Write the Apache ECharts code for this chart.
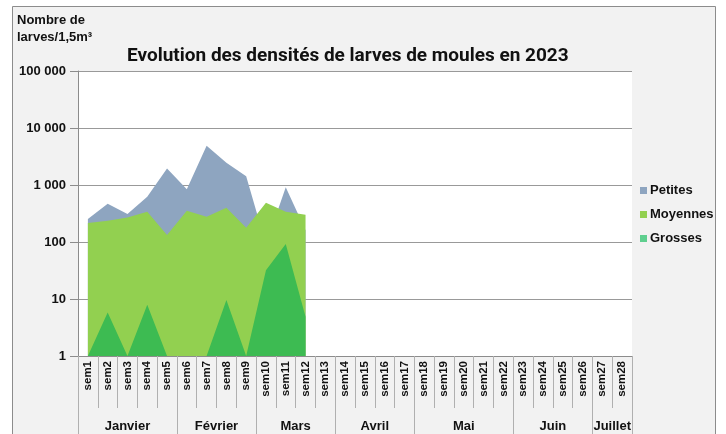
<!DOCTYPE html>
<html><head><meta charset="utf-8">
<script src="https://cdn.jsdelivr.net/npm/echarts@6/dist/echarts.min.js"></script>
<style>html,body{margin:0;padding:0;background:#fff}#c{width:726px;height:434px}</style>
</head><body><div id="c"></div>
<script>
const weeks = ['sem1','sem2','sem3','sem4','sem5','sem6','sem7','sem8','sem9','sem10','sem11','sem12','sem13','sem14','sem15','sem16','sem17','sem18','sem19','sem20','sem21','sem22','sem23','sem24','sem25','sem26','sem27','sem28'];
const petites  = [252, 470, 310, 620, 1940, 840, 4900, 2460, 1420, 90, 910, 160];
const moyennes = [215, 235, 270, 340, 133, 355, 277, 400, 178, 490, 340, 300];
const grosses  = [1, 5.8, 1, 7.9, 1, 1, 1, 9.6, 1, 32, 92, 4.9];
const months = ['Janvier','Février','Mars','Avril','Mai','Juin','Juillet'];
const monthBounds = [0,5,9,13,17,22,26,28];
const yTicks = [1,10,100,1000,10000,100000];

const monthCenters = months.map((m,i)=> (monthBounds[i]+monthBounds[i+1])/2);
const FONT = 'Liberation Sans';
const chart = echarts.init(document.getElementById('c'));
chart.setOption({
  animation:false,
  backgroundColor:'#ffffff',
  graphic:[{type:'rect',z:-10,shape:{x:12.5,y:6.5,width:703,height:440},style:{fill:'#f2f2f2',stroke:'#8c8c8c',lineWidth:1}},
           {type:'text',left:17,top:12,style:{text:'Nombre de\nlarves/1,5m³',font:'bold 13px "Liberation Sans"',fill:'#111',lineHeight:17}}],
  title:{text:'Evolution des densités de larves de moules en 2023',left:122,top:42,
    textStyle:{fontFamily:'Roboto',fontWeight:'bold',fontSize:19,color:'#111'}},
  legend:{orient:'vertical',left:635,top:179,itemWidth:7,itemHeight:7,itemGap:11,icon:'rect',
    textStyle:{fontFamily:FONT,fontWeight:'bold',fontSize:13,color:'#111',padding:[0,0,0,-2]},
    data:[{name:'Petites'},{name:'Moyennes'},{name:'Grosses',itemStyle:{color:'#5fcf8f'}}]},
  grid:{left:78,right:94,top:71,bottom:78,containLabel:false,backgroundColor:'#fff',show:true,borderWidth:0},
  xAxis:[{type:'category',data:weeks,boundaryGap:true,
      axisLine:{lineStyle:{color:'#8c8c8c'}},
      axisTick:{show:true,interval:0,length:52,lineStyle:{color:'#b0b0b0'}},
      axisLabel:{interval:0,rotate:90,margin:5,fontFamily:FONT,fontWeight:'bold',fontSize:11.5,color:'#111'}},
    {type:'value',position:'bottom',min:0,max:28,
      axisLine:{show:false},splitLine:{show:false},
      axisTick:{show:true,customValues:monthBounds,length:80,lineStyle:{color:'#b0b0b0'}},
      axisLabel:{customValues:monthCenters,margin:64,fontFamily:FONT,fontWeight:'bold',fontSize:13,color:'#111',
        formatter:v=>{const i=monthCenters.indexOf(v);return i>=0?months[i]:'';}}}],
  yAxis:{type:'log',logBase:10,min:1,max:100000,
    axisLine:{show:true,lineStyle:{color:'#8c8c8c'}},
    axisTick:{show:true,length:8,lineStyle:{color:'#8c8c8c'}},
    splitLine:{show:true,lineStyle:{color:'#999',width:1}},
    axisLabel:{margin:12,fontFamily:FONT,fontWeight:'bold',fontSize:13,color:'#111',
      formatter:v=>String(Math.round(v)).replace(/\B(?=(\d{3})+(?!\d))/g,' ')}},
  series:[
    {name:'Petites',type:'line',data:petites,symbol:'none',lineStyle:{width:0},z:1,
     itemStyle:{color:'#8ea5c0'},areaStyle:{color:'#8ea5c0',opacity:1,origin:'start'}},
    {name:'Moyennes',type:'line',data:moyennes,symbol:'none',lineStyle:{width:0},z:2,
     itemStyle:{color:'#92d050'},areaStyle:{color:'#92d050',opacity:1,origin:'start'}},
    {name:'Grosses',type:'line',data:grosses,symbol:'none',lineStyle:{width:0},z:3,
     itemStyle:{color:'#3dbb52'},areaStyle:{color:'#3dbb52',opacity:1,origin:'start'}}
  ]
});
</script></body></html>
